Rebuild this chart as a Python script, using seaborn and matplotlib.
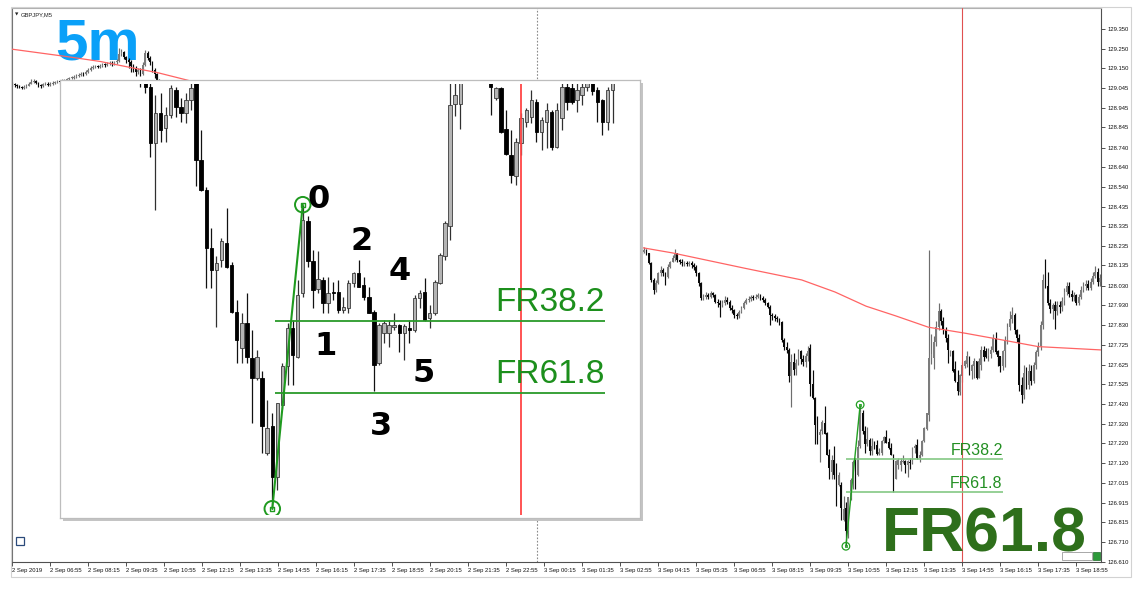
import numpy as np
import pandas as pd
import matplotlib
matplotlib.use("Agg")
import matplotlib.pyplot as plt
from matplotlib.patches import Rectangle
import seaborn as sns

sns.set_theme(style="white")
plt.rcParams['font.family'] = ['Liberation Sans', 'DejaVu Sans']

# ------------------------------------------------------------------ DATA
x_tick_labels = ["2 Sep 2019", "2 Sep 06:55", "2 Sep 08:15", "2 Sep 09:35", "2 Sep 10:55",
                 "2 Sep 12:15", "2 Sep 13:35", "2 Sep 14:55", "2 Sep 16:15", "2 Sep 17:35",
                 "2 Sep 18:55", "2 Sep 20:15", "2 Sep 21:35", "2 Sep 22:55", "3 Sep 00:15",
                 "3 Sep 01:35", "3 Sep 02:55", "3 Sep 04:15", "3 Sep 05:35", "3 Sep 06:55",
                 "3 Sep 08:15", "3 Sep 09:35", "3 Sep 10:55", "3 Sep 12:15", "3 Sep 13:35",
                 "3 Sep 14:55", "3 Sep 16:15", "3 Sep 17:35", "3 Sep 18:55"]
bars_per_label = 16
y_tick_values = [126.610, 126.710, 126.815, 126.915, 127.015, 127.120, 127.220, 127.320,
                 127.420, 127.525, 127.625, 127.725, 127.830, 127.930, 128.030, 128.135,
                 128.235, 128.335, 128.435, 128.540, 128.640, 128.740, 128.845, 128.945,
                 129.045, 129.150, 129.250, 129.350]

# segment A : first visible bars of 2 Sep (bar 0 ..)
a_open = [129.072, 129.070, 129.062, 129.058, 129.052, 129.048, 129.054, 129.060, 129.070, 129.080,
          129.082, 129.072, 129.062, 129.058, 129.068, 129.070, 129.064, 129.070, 129.074, 129.078,
          129.080, 129.078, 129.084, 129.088, 129.092, 129.098, 129.100, 129.104, 129.108, 129.114,
          129.120, 129.118, 129.128, 129.140, 129.150, 129.154, 129.158, 129.156, 129.162, 129.168,
          129.166, 129.172, 129.178, 129.170, 129.180, 129.184, 129.224, 129.232, 129.208, 129.190,
          129.182, 129.160, 129.150, 129.128, 129.140, 129.120, 129.168, 129.226, 129.204, 129.180,
          129.140, 129.118, 129.090, 129.050]
a_high = [129.080, 129.075, 129.070, 129.065, 129.060, 129.062, 129.068, 129.078, 129.095, 129.092,
          129.088, 129.076, 129.068, 129.075, 129.080, 129.076, 129.078, 129.082, 129.086, 129.090,
          129.088, 129.092, 129.096, 129.100, 129.106, 129.110, 129.112, 129.118, 129.124, 129.128,
          129.128, 129.138, 129.150, 129.160, 129.164, 129.168, 129.168, 129.172, 129.176, 129.178,
          129.182, 129.186, 129.184, 129.188, 129.196, 129.254, 129.250, 129.236, 129.214, 129.200,
          129.190, 129.172, 129.160, 129.152, 129.148, 129.180, 129.244, 129.236, 129.212, 129.186,
          129.150, 129.124, 129.096, 129.060]
a_low = [129.060, 129.055, 129.050, 129.045, 129.040, 129.044, 129.050, 129.056, 129.066, 129.072,
         129.066, 129.055, 129.050, 129.055, 129.062, 129.058, 129.060, 129.064, 129.068, 129.072,
         129.070, 129.074, 129.078, 129.082, 129.088, 129.092, 129.094, 129.100, 129.104, 129.108,
         129.110, 129.116, 129.126, 129.136, 129.144, 129.148, 129.148, 129.150, 129.156, 129.158,
         129.162, 129.166, 129.162, 129.166, 129.172, 129.180, 129.210, 129.196, 129.176, 129.150,
         129.128, 129.130, 129.110, 129.118, 129.108, 129.114, 129.160, 129.190, 129.168, 129.128,
         129.100, 129.076, 129.030, 128.990]
a_close = [129.070, 129.062, 129.058, 129.052, 129.048, 129.054, 129.060, 129.070, 129.080, 129.082,
           129.072, 129.062, 129.058, 129.068, 129.070, 129.064, 129.070, 129.074, 129.078, 129.080,
           129.078, 129.084, 129.088, 129.092, 129.098, 129.100, 129.104, 129.108, 129.114, 129.120,
           129.118, 129.128, 129.140, 129.150, 129.154, 129.158, 129.156, 129.162, 129.168, 129.166,
           129.172, 129.178, 129.170, 129.180, 129.184, 129.224, 129.232, 129.208, 129.190, 129.182,
           129.160, 129.150, 129.128, 129.140, 129.120, 129.168, 129.226, 129.204, 129.180, 129.140,
           129.118, 129.090, 129.050, 129.010]

# segment C : 3 Sep from bar 264 onwards (bars in between are hidden by the zoom box)
c_first_bar = 264
c_open = [128.220, 128.215, 128.206, 128.215, 128.197, 128.146, 128.060, 128.009, 128.043, 128.094,
          128.112, 128.094, 128.077, 128.129, 128.154, 128.172, 128.197, 128.163, 128.154, 128.146,
          128.149, 128.143, 128.146, 128.137, 128.129, 128.094, 128.043, 127.966, 127.974, 127.983,
          127.974, 127.992, 127.983, 127.949, 127.940, 127.932, 127.940, 127.957, 127.949, 127.915,
          127.906, 127.880, 127.872, 127.897, 127.915, 127.940, 127.957, 127.961, 127.971, 127.966,
          127.974, 127.983, 127.966, 127.957, 127.940, 127.923, 127.880, 127.872, 127.863, 127.858,
          127.846, 127.752, 127.717, 127.700, 127.565, 127.637, 127.601, 127.633, 127.693, 127.653,
          127.637, 127.669, 127.710, 127.525, 127.454, 127.314, 127.262, 127.285, 127.326, 127.274,
          127.162, 127.074, 127.134, 127.050, 127.003, 127.003, 126.823, 126.887, 126.767, 126.939,
          127.031, 127.122, 127.054, 127.206, 127.378, 127.282, 127.216, 127.238, 127.182, 127.210,
          127.210, 127.166, 127.170, 127.230, 127.254, 127.226, 127.198, 127.162, 127.038, 127.110,
          127.110, 127.126, 127.130, 127.110, 127.122, 127.118, 127.194, 127.210, 127.146, 127.158,
          127.230, 127.294, 127.366, 127.660, 127.660, 127.740, 127.820, 127.900, 127.850, 127.800,
          127.760, 127.673, 127.697, 127.600, 127.537, 127.486, 127.565, 127.617, 127.629, 127.665,
          127.593, 127.617, 127.641, 127.557, 127.625, 127.701, 127.697, 127.669, 127.681, 127.700,
          127.760, 127.693, 127.669, 127.617, 127.693, 127.750, 127.820, 127.860, 127.880, 127.800,
          127.760, 127.520, 127.470, 127.580, 127.520, 127.590, 127.540, 127.620, 127.690, 127.720,
          127.830, 128.060, 128.030, 127.940, 127.910, 127.930, 127.900, 127.930, 127.920, 127.950,
          128.000, 128.030, 127.990, 127.970, 127.980, 127.940, 127.970, 128.010, 128.030, 128.040,
          128.020, 128.050, 128.080, 128.100, 128.050]
c_high = [128.230, 128.220, 128.232, 128.220, 128.200, 128.150, 128.070, 128.060, 128.100, 128.130,
          128.120, 128.100, 128.140, 128.160, 128.190, 128.218, 128.200, 128.170, 128.170, 128.160,
          128.160, 128.160, 128.155, 128.145, 128.135, 128.100, 128.050, 127.990, 128.000, 127.995,
          128.005, 128.000, 127.990, 127.960, 127.955, 127.955, 127.975, 127.970, 127.955, 127.930,
          127.910, 127.890, 127.905, 127.925, 127.950, 127.965, 127.975, 127.980, 127.985, 127.990,
          127.995, 127.990, 127.975, 127.965, 127.945, 127.930, 127.890, 127.885, 127.875, 127.865,
          127.850, 127.760, 127.740, 127.710, 127.680, 127.685, 127.653, 127.705, 127.700, 127.673,
          127.685, 127.720, 127.730, 127.597, 127.460, 127.362, 127.294, 127.338, 127.410, 127.280,
          127.190, 127.158, 127.206, 127.118, 127.070, 127.019, 126.951, 126.919, 126.943, 127.040,
          127.134, 127.142, 127.238, 127.418, 127.390, 127.310, 127.306, 127.246, 127.246, 127.234,
          127.238, 127.198, 127.238, 127.258, 127.286, 127.246, 127.222, 127.165, 127.135, 127.142,
          127.142, 127.158, 127.132, 127.132, 127.142, 127.202, 127.214, 127.242, 127.178, 127.238,
          127.302, 127.378, 128.215, 127.780, 127.770, 127.850, 127.940, 127.910, 127.870, 127.820,
          127.780, 127.701, 127.700, 127.645, 127.597, 127.577, 127.637, 127.650, 127.693, 127.670,
          127.629, 127.661, 127.645, 127.661, 127.720, 127.720, 127.710, 127.710, 127.720, 127.780,
          127.790, 127.700, 127.670, 127.700, 127.770, 127.840, 127.900, 127.920, 127.890, 127.810,
          127.780, 127.560, 127.620, 127.610, 127.630, 127.620, 127.640, 127.700, 127.740, 127.850,
          128.090, 128.170, 128.100, 127.960, 127.940, 127.950, 127.950, 127.950, 127.970, 128.020,
          128.050, 128.050, 128.010, 128.000, 127.990, 127.990, 128.030, 128.050, 128.060, 128.060,
          128.070, 128.100, 128.130, 128.120, 128.090]
c_low = [128.200, 128.195, 128.200, 128.190, 128.140, 128.050, 127.990, 128.000, 128.040, 128.080,
         128.080, 128.035, 128.070, 128.120, 128.150, 128.160, 128.150, 128.140, 128.130, 128.130,
         128.130, 128.130, 128.120, 128.110, 128.080, 128.030, 127.955, 127.955, 127.960, 127.960,
         127.965, 127.970, 127.940, 127.920, 127.870, 127.920, 127.930, 127.935, 127.905, 127.890,
         127.865, 127.860, 127.865, 127.890, 127.910, 127.935, 127.945, 127.950, 127.955, 127.960,
         127.965, 127.955, 127.945, 127.930, 127.915, 127.830, 127.855, 127.850, 127.845, 127.830,
         127.740, 127.700, 127.685, 127.533, 127.406, 127.569, 127.569, 127.625, 127.629, 127.617,
         127.613, 127.645, 127.462, 127.450, 127.218, 127.218, 127.126, 127.270, 127.266, 127.158,
         127.038, 127.038, 127.038, 126.895, 126.999, 126.823, 126.819, 126.690, 126.735, 126.930,
         126.987, 126.987, 127.050, 127.198, 127.270, 127.170, 127.206, 127.158, 127.158, 127.190,
         127.158, 127.158, 127.158, 127.222, 127.222, 127.190, 127.158, 126.971, 127.035, 127.086,
         127.078, 127.118, 127.066, 127.046, 127.086, 127.114, 127.170, 127.140, 127.122, 127.155,
         127.228, 127.286, 127.334, 127.630, 127.600, 127.720, 127.800, 127.830, 127.780, 127.740,
         127.633, 127.669, 127.589, 127.537, 127.470, 127.466, 127.537, 127.605, 127.613, 127.569,
         127.549, 127.553, 127.549, 127.553, 127.597, 127.645, 127.660, 127.641, 127.657, 127.690,
         127.680, 127.617, 127.585, 127.597, 127.613, 127.730, 127.800, 127.840, 127.780, 127.740,
         127.490, 127.426, 127.450, 127.500, 127.500, 127.520, 127.530, 127.600, 127.670, 127.700,
         127.810, 128.020, 127.930, 127.890, 127.860, 127.810, 127.880, 127.890, 127.900, 127.930,
         127.980, 127.970, 127.950, 127.950, 127.930, 127.930, 127.960, 128.000, 128.010, 128.010,
         128.010, 128.040, 128.070, 128.030, 128.030]
c_close = [128.215, 128.206, 128.215, 128.197, 128.146, 128.060, 128.009, 128.043, 128.094, 128.112,
           128.094, 128.077, 128.129, 128.154, 128.172, 128.197, 128.163, 128.154, 128.146, 128.149,
           128.143, 128.146, 128.137, 128.129, 128.094, 128.043, 127.966, 127.974, 127.983, 127.974,
           127.992, 127.983, 127.949, 127.940, 127.932, 127.940, 127.957, 127.949, 127.915, 127.906,
           127.880, 127.872, 127.897, 127.915, 127.940, 127.957, 127.961, 127.971, 127.966, 127.974,
           127.983, 127.966, 127.957, 127.940, 127.923, 127.880, 127.872, 127.863, 127.858, 127.846,
           127.752, 127.717, 127.700, 127.565, 127.637, 127.597, 127.633, 127.697, 127.653, 127.637,
           127.669, 127.697, 127.525, 127.454, 127.314, 127.262, 127.278, 127.330, 127.270, 127.162,
           127.094, 127.134, 127.054, 127.003, 127.054, 126.887, 126.883, 126.767, 126.943, 127.031,
           127.122, 127.058, 127.202, 127.382, 127.282, 127.214, 127.240, 127.182, 127.206, 127.206,
           127.166, 127.174, 127.230, 127.254, 127.222, 127.198, 127.158, 127.035, 127.130, 127.134,
           127.130, 127.130, 127.110, 127.128, 127.118, 127.194, 127.206, 127.142, 127.158, 127.234,
           127.298, 127.374, 127.657, 127.680, 127.740, 127.820, 127.900, 127.850, 127.800, 127.760,
           127.700, 127.697, 127.593, 127.540, 127.490, 127.569, 127.625, 127.645, 127.669, 127.593,
           127.621, 127.645, 127.557, 127.645, 127.701, 127.665, 127.665, 127.693, 127.700, 127.760,
           127.690, 127.665, 127.617, 127.693, 127.750, 127.820, 127.860, 127.880, 127.800, 127.760,
           127.520, 127.470, 127.580, 127.520, 127.590, 127.540, 127.620, 127.690, 127.720, 127.830,
           128.060, 128.030, 127.940, 127.910, 127.930, 127.900, 127.930, 127.920, 127.950, 128.000,
           128.030, 127.990, 127.970, 127.980, 127.940, 127.970, 128.010, 128.030, 128.040, 128.020,
           128.050, 128.080, 128.100, 128.050, 128.070]

# red moving average (sampled points)
ma_a_bars = [0, 23, 37, 51, 61, 75, 80]
ma_a_vals = [129.247, 129.209, 129.184, 129.150, 129.127, 129.084, 129.070]
ma_c_bars = [264.3, 278, 308.5, 332.4, 346.4, 359.5, 372, 385.7, 401.2, 415.2, 432, 458.4]
ma_c_vals = [128.228, 128.199, 128.120, 128.060, 127.998, 127.925, 127.875, 127.817, 127.786,
             127.755, 127.717, 127.700]

# Fibonacci swing (low -> high) and retracement levels
swing_bars = [351, 357]
swing_prices = [126.690, 127.418]
fib_ratios = [0.382, 0.618]
fib_names = ["FR38.2", "FR61.8"]
fib_end_bar = 417

marker_bar = 400        # red vertical line (3 Sep 14:55)
day_sep_bar = 221       # 3 Sep 00:00 separator

wave_labels = ["0", "1", "2", "3", "4", "5"]
wave_bars = [360.1, 361.4, 368.5, 372.4, 376.1, 380.9]
wave_prices = [127.410, 127.058, 127.310, 126.867, 127.238, 126.994]

# ------------------------------------------------------------------ FIGURE
W, H = 1147, 592
fig = plt.figure(figsize=(W / 100, H / 100), dpi=100)
fig.patch.set_facecolor("white")


def fx(x):
    return x / W


def fy(y):
    return 1 - y / H


def candles(ax, idx, o, h, l, c, width, bull_face, bull_edge, bear, wick_bull, wick_bear,
            wlw, elw, min_body, z=2):
    idx = np.asarray(idx, float)
    o, h, l, c = (np.asarray(v, float) for v in (o, h, l, c))
    h = np.maximum(h, np.maximum(o, c))
    l = np.minimum(l, np.minimum(o, c))
    up = c >= o
    ax.vlines(idx[up], l[up], h[up], colors=wick_bull, linewidth=wlw, zorder=z)
    ax.vlines(idx[~up], l[~up], h[~up], colors=wick_bear, linewidth=wlw, zorder=z)
    bot = np.minimum(o, c)
    ht = np.maximum(np.abs(c - o), min_body)
    ax.bar(idx[up], ht[up], bottom=bot[up], width=width, color=bull_face,
           edgecolor=bull_edge, linewidth=elw, zorder=z + 0.1)
    ax.bar(idx[~up], ht[~up], bottom=bot[~up], width=width, color=bear,
           edgecolor=bear, linewidth=elw, zorder=z + 0.1)


a_idx = np.arange(len(a_close))
c_idx = c_first_bar + np.arange(len(c_close))
lo, hi = swing_prices
fib_levels = [hi - r * (hi - lo) for r in fib_ratios]

# ---------------- main chart
ax = fig.add_axes([fx(12), fy(562), (1101 - 12) / W, (562 - 8) / H])
ax.set_facecolor("white")
ax.set_xlim(-0.1, 458.4)
ax.set_ylim(126.609, 129.459)

for idx, o, h, l, c in ((a_idx, a_open, a_high, a_low, a_close),
                        (c_idx, c_open, c_high, c_low, c_close)):
    candles(ax, idx, o, h, l, c, 0.72, "#7c7c7c", "#7c7c7c", "#0a0a0a",
            "#6e6e6e", "#0a0a0a", 0.85, 0.0, 0.004)

sns.lineplot(x=ma_a_bars, y=ma_a_vals, ax=ax, color="#ff6464", linewidth=0.9, zorder=3)
sns.lineplot(x=ma_c_bars, y=ma_c_vals, ax=ax, color="#ff6464", linewidth=0.9, zorder=3)

ax.axvline(day_sep_bar, color="#8a8a8a", linewidth=0.8, linestyle=(0, (1.5, 1.5)), zorder=1)
ax.axvline(marker_bar, color="#e05050", linewidth=0.8, zorder=3)

for lev, name in zip(fib_levels, fib_names):
    ax.hlines(lev, swing_bars[0], fib_end_bar, color="#84c884", linewidth=1.2, zorder=4)
    ax.annotate(name, xy=(fib_end_bar, lev), xytext=(0, 3), textcoords="offset points",
                ha="right", va="baseline", fontsize=11.5, color="#228f22", zorder=5)
sns.lineplot(x=swing_bars, y=swing_prices, ax=ax, color="#22a022", linewidth=1.0, zorder=4)
ax.scatter(swing_bars, swing_prices, s=30, facecolors="none", edgecolors="#22a022",
           linewidths=0.9, zorder=5)
ax.scatter(swing_bars, swing_prices, s=3, marker="s", facecolors="none",
           edgecolors="#22a022", linewidths=0.6, zorder=5)

# axes cosmetics
ax.yaxis.tick_right()
ax.set_yticks(y_tick_values, [f"{v:.3f}" for v in y_tick_values])
ax.set_xticks(np.arange(len(x_tick_labels)) * bars_per_label, x_tick_labels)
for t in ax.get_xticklabels():
    t.set_ha("left")
ax.tick_params(axis="x", length=3, width=0.6, pad=1.5, labelsize=4.2, color="#333333",
               bottom=True, labelcolor="#111111")
ax.tick_params(axis="y", length=3, width=0.6, pad=1.5, labelsize=4.2, color="#333333",
               right=True, labelcolor="#111111")
for side, col in (("top", "#b0b0b0"), ("left", "#707070"), ("right", "#505050"),
                  ("bottom", "#505050")):
    ax.spines[side].set_color(col)
    ax.spines[side].set_linewidth(0.8)
ax.grid(False)

# big captions (part of the main chart)
ax.text(fx(55), fy(60), "5m", transform=fig.transFigure, fontsize=42, fontweight="bold",
        color="#0aa0f8", ha="left", va="baseline", zorder=1.5, clip_on=False)
ax.text(fx(882), fy(552), "FR61.8", transform=fig.transFigure, fontsize=45,
        fontweight="bold", color="#2e6f1b", ha="left", va="baseline", zorder=6,
        clip_on=False)

# small MT4 trade box near the bottom right (partly hidden by the caption)
fig.patches.append(Rectangle((fx(1062), fy(560)), 30 / W, 8 / H, transform=fig.transFigure,
                             facecolor="white", edgecolor="#9a9a9a", linewidth=0.6,
                             zorder=0.8))
fig.patches.append(Rectangle((fx(1093), fy(560)), 7 / W, 8 / H, transform=fig.transFigure,
                             facecolor="#2c9a3a", edgecolor="#1d6d28", linewidth=0.5,
                             zorder=0.8))

# ---------------- zoom box
shadow = Rectangle((fx(63), fy(521)), 580 / W, 438 / H, transform=fig.transFigure,
                   facecolor="#c4c4c4", edgecolor="none", zorder=1.9)
fig.patches.append(shadow)
box = fig.add_axes([fx(60), fy(518), 580 / W, 438 / H])
box.set_zorder(2)
box.set_facecolor("white")
box.set_xticks([])
box.set_yticks([])
for s in box.spines.values():
    s.set_color("#bdbdbd")
    s.set_linewidth(0.9)

axi = fig.add_axes([fx(62), fy(515), 575 / W, 431 / H])
axi.set_zorder(3)
axi.patch.set_alpha(0)
axi.set_xlim(309.6, 422.8)
axi.set_ylim(126.675, 127.707)
axi.axis("off")

candles(axi, c_idx, c_open, c_high, c_low, c_close, 0.68, "#b4b4b4", "#3a3a3a", "#000000",
        "#303030", "#111111", 0.9, 0.6, 0.0025)
axi.axvline(marker_bar, color="#ff4545", linewidth=1.3, zorder=3)
for lev, name in zip(fib_levels, fib_names):
    axi.hlines(lev, swing_bars[0] + 0.5, fib_end_bar - 0.5, color="#2a9a2a", linewidth=1.3,
               zorder=4)
    axi.annotate(name, xy=(fib_end_bar - 0.5, lev), xytext=(0, 7), textcoords="offset points",
                 ha="right", va="baseline", fontsize=24, color="#1c8f1c", zorder=5)
sns.lineplot(x=swing_bars, y=swing_prices, ax=axi, color="#1f9a1f", linewidth=1.5, zorder=4)
axi.scatter(swing_bars, swing_prices, s=125, facecolors="none", edgecolors="#1f9a1f",
            linewidths=1.4, zorder=5)
axi.scatter(swing_bars, swing_prices, s=9, marker="s", facecolors="none",
            edgecolors="#1f9a1f", linewidths=1.0, zorder=5)
for lab, b, p in zip(wave_labels, wave_bars, wave_prices):
    axi.text(b, p, lab, fontsize=23, fontweight="bold", family="DejaVu Sans", color="black",
             ha="center", va="baseline", zorder=6)

# ---------------- window decorations
fig.patches.append(Rectangle((fx(11), fy(577)), 1120 / W, 570 / H, transform=fig.transFigure,
                             fill=False, edgecolor="#d2d2d2", linewidth=0.8, zorder=0.5))
fig.text(fx(15), fy(14.5), "\u25bc", fontsize=3.2, family="DejaVu Sans", va="center",
         color="#222222")
fig.text(fx(21), fy(14.5), "GBPJPY,M5", fontsize=4.2, va="center", color="#222222")
fig.patches.append(Rectangle((fx(16), fy(545)), 8 / W, 8 / H, transform=fig.transFigure,
                             fill=False, edgecolor="#2b4a7a", linewidth=0.9, zorder=5))

fig.savefig("out.png", dpi=100, facecolor="white")
